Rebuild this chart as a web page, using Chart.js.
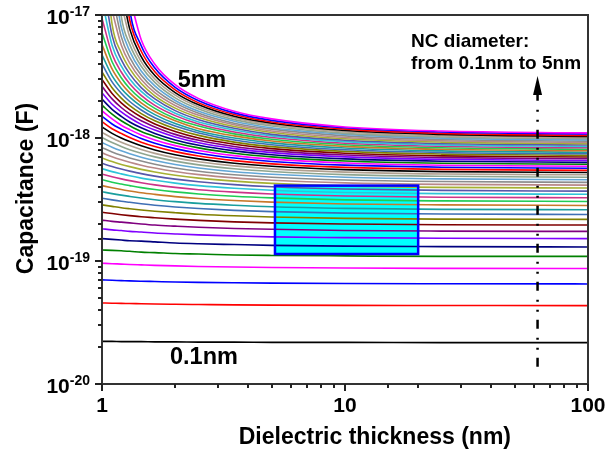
<!DOCTYPE html>
<html><head><meta charset="utf-8">
<script src="https://cdn.jsdelivr.net/npm/chart.js@4.4.0/dist/chart.umd.min.js"></script>
<style>html,body{margin:0;padding:0;background:#fff}#wrap{width:609px;height:452px;position:relative}</style>
</head><body><div id="wrap"><canvas id="c"></canvas></div>
<script>
// Dielectric thickness (nm) at which every curve is sampled
const thickness = [1, 1.1, 1.2, 1.3, 1.45, 1.65, 2, 2.5, 3.5, 5, 10, 25, 100];
// NC diameters (nm), one curve each
const diameters = [0.1,0.2,0.3,0.4,0.5,0.6,0.7,0.8,0.9,1.0,1.1,1.2,1.3,1.4,1.5,1.6,1.7,1.8,1.9,2.0,
  2.1,2.2,2.3,2.4,2.5,2.6,2.7,2.8,2.9,3.0,3.1,3.2,3.3,3.4,3.5,3.6,3.7,3.8,3.9,4.0,
  4.1,4.2,4.3,4.4,4.5,4.6,4.7,4.8,4.9,5.0];
// Capacitance, in units of 1e-19 F (null = no value at that thickness)
const c01 = [0.222,0.222,0.221,0.221,0.221,0.220,0.220,0.219,0.219,0.218,0.218,0.217,0.217];
const c02 = [0.456,0.454,0.452,0.451,0.449,0.447,0.445,0.443,0.440,0.438,0.436,0.435,0.434];
const c03 = [0.702,0.697,0.693,0.689,0.685,0.681,0.675,0.670,0.665,0.661,0.656,0.653,0.651];
const c04 = [0.960,0.951,0.944,0.937,0.930,0.922,0.912,0.903,0.893,0.885,0.876,0.871,0.869];
const c05 = [1.23,1.22,1.21,1.20,1.18,1.17,1.15,1.14,1.12,1.11,1.10,1.09,1.09];
const c06 = [1.52,1.50,1.48,1.46,1.45,1.43,1.40,1.38,1.36,1.34,1.32,1.31,1.30];
const c07 = [1.83,1.79,1.77,1.74,1.72,1.69,1.66,1.63,1.60,1.57,1.55,1.53,1.52];
const c08 = [2.15,2.10,2.07,2.04,2.00,1.96,1.92,1.88,1.84,1.81,1.77,1.75,1.74];
const c09 = [2.49,2.43,2.38,2.34,2.29,2.25,2.19,2.14,2.08,2.04,2.00,1.97,1.96];
const c10 = [2.86,2.78,2.71,2.66,2.60,2.54,2.47,2.40,2.33,2.28,2.22,2.19,2.18];
const c11 = [3.24,3.14,3.06,3.00,2.92,2.84,2.75,2.67,2.58,2.52,2.45,2.41,2.39];
const c12 = [3.66,3.53,3.43,3.35,3.25,3.15,3.04,2.94,2.84,2.76,2.68,2.63,2.61];
const c13 = [4.10,3.94,3.81,3.71,3.59,3.48,3.34,3.22,3.10,3.01,2.91,2.86,2.83];
const c14 = [4.58,4.37,4.22,4.10,3.95,3.81,3.65,3.51,3.36,3.26,3.14,3.08,3.05];
const c15 = [5.09,4.84,4.65,4.50,4.33,4.16,3.97,3.80,3.63,3.51,3.38,3.30,3.27];
const c16 = [5.64,5.33,5.11,4.93,4.72,4.53,4.30,4.10,3.90,3.76,3.61,3.53,3.49];
const c17 = [6.23,5.86,5.59,5.38,5.13,4.90,4.63,4.41,4.18,4.02,3.85,3.75,3.70];
const c18 = [6.88,6.43,6.10,5.85,5.56,5.29,4.98,4.72,4.46,4.28,4.08,3.97,3.92];
const c19 = [7.58,7.04,6.65,6.35,6.01,5.70,5.34,5.04,4.74,4.54,4.32,4.20,4.14];
const c20 = [8.35,7.70,7.23,6.88,6.49,6.12,5.71,5.37,5.03,4.80,4.56,4.43,4.36];
const c21 = [9.19,8.41,7.86,7.44,6.98,6.56,6.09,5.71,5.32,5.07,4.80,4.65,4.58];
const c22 = [10.1,9.18,8.53,8.04,7.51,7.02,6.49,6.05,5.62,5.34,5.04,4.88,4.80];
const c23 = [11.1,10.0,9.24,8.67,8.06,7.50,6.89,6.41,5.93,5.61,5.28,5.10,5.02];
const c24 = [12.3,10.9,10.0,9.35,8.64,8.00,7.31,6.77,6.23,5.89,5.53,5.33,5.24];
const c25 = [13.6,11.9,10.9,10.1,9.25,8.53,7.75,7.14,6.55,6.16,5.77,5.56,5.46];
const c26 = [15.0,13.0,11.8,10.9,9.90,9.07,8.20,7.52,6.87,6.45,6.02,5.79,5.68];
const c27 = [16.6,14.3,12.7,11.7,10.6,9.65,8.67,7.91,7.19,6.73,6.27,6.01,5.90];
const c28 = [18.5,15.6,13.8,12.6,11.3,10.3,9.15,8.31,7.52,7.02,6.51,6.24,6.12];
const c29 = [20.7,17.1,15.0,13.5,12.1,10.9,9.65,8.72,7.86,7.31,6.76,6.47,6.34];
const c30 = [23.3,18.8,16.3,14.6,12.9,11.6,10.2,9.14,8.20,7.61,7.02,6.70,6.56];
const c31 = [26.3,20.8,17.7,15.7,13.8,12.3,10.7,9.58,8.54,7.90,7.27,6.93,6.78];
const c32 = [29.9,23.0,19.3,17.0,14.8,13.0,11.3,10.0,8.90,8.20,7.52,7.16,7.00];
const c33 = [34.4,25.6,21.1,18.3,15.8,13.8,11.9,10.5,9.26,8.51,7.78,7.40,7.22];
const c34 = [40.1,28.6,23.1,19.8,16.9,14.6,12.5,11.0,9.62,8.82,8.03,7.63,7.44];
const c35 = [47.5,32.1,25.3,21.5,18.1,15.5,13.1,11.4,9.99,9.13,8.29,7.86,7.66];
const c36 = [57.4,36.4,27.9,23.3,19.3,16.4,13.8,11.9,10.4,9.44,8.55,8.09,7.88];
const c37 = [71.7,41.7,30.9,25.3,20.7,17.4,14.4,12.5,10.8,9.76,8.81,8.32,8.10];
const c38 = [93.7,48.2,34.4,27.6,22.2,18.4,15.2,13.0,11.2,10.1,9.07,8.56,8.32];
const c39 = [132,56.8,38.5,30.2,23.9,19.6,15.9,13.5,11.6,10.4,9.34,8.79,8.54];
const c40 = [217,68.2,43.4,33.2,25.7,20.8,16.7,14.1,12.0,10.7,9.60,9.03,8.76];
const c41 = [556,84.4,49.4,36.6,27.7,22.0,17.5,14.7,12.4,11.1,9.87,9.26,8.99];
const c42 = [null,109,57.0,40.6,29.9,23.4,18.4,15.3,12.8,11.4,10.1,9.50,9.21];
const c43 = [null,151,66.7,45.3,32.4,24.9,19.3,15.9,13.2,11.8,10.4,9.73,9.43];
const c44 = [null,239,79.6,50.9,35.1,26.5,20.2,16.5,13.7,12.1,10.7,9.97,9.65];
const c45 = [null,537,97.7,57.7,38.3,28.3,21.2,17.2,14.1,12.5,10.9,10.2,9.87];
const c46 = [null,null,125,66.2,41.8,30.2,22.3,17.9,14.6,12.8,11.2,10.4,10.1];
const c47 = [null,null,170,77.1,45.9,32.2,23.4,18.6,15.0,13.2,11.5,10.7,10.3];
const c48 = [null,null,260,91.5,50.7,34.5,24.6,19.3,15.5,13.5,11.8,10.9,10.5];
const c49 = [null,null,532,111,56.3,37.0,25.8,20.1,16.0,13.9,12.1,11.2,10.8];
const c50 = [null,null,null,141,62.9,39.8,27.1,20.9,16.5,14.3,12.3,11.4,11.0];
const UNIT = 1e-19;
const series = [c01,c02,c03,c04,c05,c06,c07,c08,c09,c10,c11,c12,c13,c14,c15,c16,c17,c18,c19,c20,
  c21,c22,c23,c24,c25,c26,c27,c28,c29,c30,c31,c32,c33,c34,c35,c36,c37,c38,c39,c40,
  c41,c42,c43,c44,c45,c46,c47,c48,c49,c50];
// Axis ranges
const xRange = [1, 100];
const yRange = [1e-20, 1e-17];
// Highlighted box (thickness range, capacitance range)
const boxX = [5.15, 20];
const boxY = [1.14e-19, 4.1e-19];
// Arrow (thickness, capacitance from / to)
const arrowX = 62;
const arrowY = [1.38e-20, 3.19e-18];
const xTitle = 'Dielectric thickness (nm)';
const yTitle = 'Capacitance (F)';

const COLORS = ['#000000','#FF0000','#0000FF','#FF00FF','#008000','#000080','#8000FF','#800080',
  '#800000','#808000','#3F6FB5','#1A9E9E','#C8782A','#1FCC55','#CC3388','#2EC4D8','#5757AA',
  '#A6B032','#B88888','#8C8C8C','#62A6D6','#8FA58F','#B0A090'];
const FONT = '"Liberation Sans", Arial, Helvetica, sans-serif';
function isDecade(v){ const l = Math.log10(v); return Math.abs(l - Math.round(l)) < 1e-6; }

const datasets = series.map((s, k) => ({
  label: diameters[k] + ' nm',
  data: thickness.map((t, j) => ({x: t, y: s[j] == null ? null : s[j] * UNIT})),
  borderColor: COLORS[k % COLORS.length],
  backgroundColor: COLORS[k % COLORS.length],
  borderWidth: 1.6,
  pointRadius: 0,
  fill: false,
  cubicInterpolationMode: 'monotone',
  order: series.length - k
}));

const decor = {
  id: 'decor',
  beforeDatasetsDraw(chart){
    const {ctx, scales:{x, y}} = chart;
    const x0 = x.getPixelForValue(boxX[0]), x1 = x.getPixelForValue(boxX[1]);
    const y0 = y.getPixelForValue(boxY[1]), y1 = y.getPixelForValue(boxY[0]);
    ctx.save(); ctx.fillStyle = '#00FFFF'; ctx.fillRect(x0, y0, x1 - x0, y1 - y0); ctx.restore();
  },
  afterDatasetsDraw(chart){
    const {ctx, chartArea:a, scales:{x, y}} = chart;
    ctx.save();
    // box border
    const x0 = x.getPixelForValue(boxX[0]), x1 = x.getPixelForValue(boxX[1]);
    const y0 = y.getPixelForValue(boxY[1]), y1 = y.getPixelForValue(boxY[0]);
    ctx.strokeStyle = '#0000FF'; ctx.lineWidth = 2.5;
    ctx.strokeRect(x0, y0, x1 - x0, y1 - y0);
    // frame
    ctx.strokeStyle = '#333'; ctx.lineWidth = 2;
    ctx.strokeRect(a.left, a.top, a.right - a.left, a.bottom - a.top);
    // ticks
    ctx.strokeStyle = '#222'; ctx.lineWidth = 2;
    ctx.beginPath();
    x.ticks.forEach(t => {
      const p = Math.round(x.getPixelForValue(t.value));
      const len = isDecade(t.value) ? 7 : 4;
      ctx.moveTo(p, a.bottom); ctx.lineTo(p, a.bottom + len);
    });
    y.ticks.forEach(t => {
      const p = Math.round(y.getPixelForValue(t.value));
      const len = isDecade(t.value) ? 7 : 4;
      ctx.moveTo(a.left, p); ctx.lineTo(a.left - len, p);
    });
    ctx.stroke();
    // y tick labels 10^n
    ctx.fillStyle = '#000'; ctx.textAlign = 'right'; ctx.textBaseline = 'alphabetic';
    y.ticks.forEach(t => {
      if (!isDecade(t.value)) return;
      const p = y.getPixelForValue(t.value);
      const e = String(Math.round(Math.log10(t.value)));
      ctx.font = 'bold 14px ' + FONT;
      const w = ctx.measureText(e).width;
      ctx.fillText(e, 90, p + 1);
      ctx.font = 'bold 21px ' + FONT;
      ctx.fillText('10', 90 - w, p + 9);
    });
    // axis titles
    ctx.font = 'bold 23px ' + FONT;
    ctx.textAlign = 'right';
    ctx.fillText(xTitle, 511, 444);
    ctx.save();
    ctx.translate(33, 188.5); ctx.rotate(-Math.PI / 2);
    ctx.textAlign = 'center';
    ctx.fillText(yTitle, 0, 0);
    ctx.restore();
    // dash-dot arrow
    const ax = x.getPixelForValue(arrowX);
    const ay0 = y.getPixelForValue(arrowY[0]), ay1 = y.getPixelForValue(arrowY[1]);
    ctx.strokeStyle = '#000'; ctx.lineWidth = 2.5; ctx.setLineDash([9, 8, 2, 8, 2, 9]);
    ctx.beginPath(); ctx.moveTo(ax, ay0); ctx.lineTo(ax, ay1 + 18); ctx.stroke();
    ctx.setLineDash([]);
    ctx.beginPath(); ctx.moveTo(ax, ay1); ctx.lineTo(ax - 4.5, ay1 + 19); ctx.lineTo(ax + 4.5, ay1 + 19); ctx.closePath();
    ctx.fillStyle = '#000'; ctx.fill();
    // annotations
    ctx.textAlign = 'left'; ctx.fillStyle = '#000';
    ctx.font = 'bold 23.5px ' + FONT;
    ctx.fillText('5nm', x.getPixelForValue(2.05), y.getPixelForValue(2.6e-18));
    ctx.fillText('0.1nm', x.getPixelForValue(1.905), y.getPixelForValue(1.46e-20));
    ctx.font = 'bold 19px ' + FONT;
    ctx.fillText('NC diameter:', x.getPixelForValue(18.7), y.getPixelForValue(5.52e-18));
    ctx.fillText('from 0.1nm to 5nm', x.getPixelForValue(18.7), y.getPixelForValue(3.61e-18));
    ctx.restore();
  }
};

new Chart(document.getElementById('c'), {
  type: 'line',
  data: { datasets },
  options: {
    responsive: true, maintainAspectRatio: false, animation: false,
    layout: { padding: { left: 0, right: 21, top: 15, bottom: 0 } },
    plugins: { legend: { display: false }, tooltip: { enabled: false } },
    elements: { line: { borderCapStyle: 'round' } },
    scales: {
      x: {
        type: 'logarithmic', min: xRange[0], max: xRange[1],
        grid: { display: false, drawTicks: true, tickLength: 10 }, border: { display: false },
        ticks: { autoSkip: false, maxRotation: 0, padding: 0, color: '#000',
          font: { family: FONT, size: 21, weight: 'bold' },
          callback: v => isDecade(v) ? String(Math.round(v)) : '' },
        title: { display: false, text: xTitle },
        afterFit: s => { s.height = 68; }
      },
      y: {
        type: 'logarithmic', min: yRange[0], max: yRange[1],
        grid: { display: false, drawTicks: false }, border: { display: false },
        ticks: { display: false, autoSkip: false, callback: v => isDecade(v) ? '10^' + Math.round(Math.log10(v)) : '' },
        title: { display: false, text: yTitle },
        afterFit: s => { s.width = 102; }
      }
    }
  },
  plugins: [decor]
});
</script>
</body></html>
